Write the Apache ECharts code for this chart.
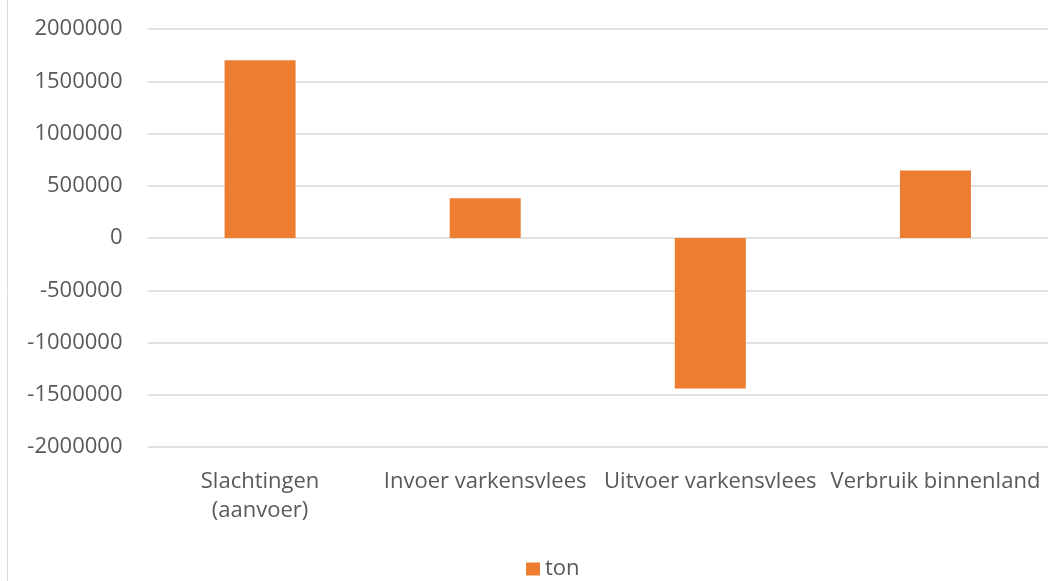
<!DOCTYPE html>
<html>
<head>
<meta charset="utf-8">
<script src="https://cdn.jsdelivr.net/npm/echarts@6/dist/echarts.min.js"></script>
<style>
html,body{margin:0;padding:0;background:#fff;}
#chart{width:1048px;height:581px;}
</style>
</head>
<body>
<div id="chart"></div>
<script>
const categories = ["Slachtingen\n(aanvoer)", "Invoer varkensvlees", "Uitvoer varkensvlees", "Verbruik binnenland"];
const seriesName = "ton";
const values = [1700000, 380000, -1440000, 645000];
const yMin = -2000000, yMax = 2000000, yInterval = 500000;

const chart = echarts.init(document.getElementById('chart'), null, {renderer: 'canvas'});
const textColor = '#595959';
const fontFamily = '"Open Sans", "Noto Sans", sans-serif';
chart.setOption({
  animation: false,
  backgroundColor: '#ffffff',
  textStyle: {fontFamily: fontFamily},
  grid: {left: 147.5, width: 904, top: 29, height: 418, containLabel: false},
  graphic: [{
    type: 'line',
    shape: {x1: 7.5, y1: 0, x2: 7.5, y2: 581},
    style: {stroke: '#d9d9d9', lineWidth: 1}
  }],
  legend: {
    data: [seriesName],
    left: 521,
    top: 553,
    itemWidth: 14,
    itemHeight: 13,
    itemGap: 8,
    icon: 'rect',
    textStyle: {color: textColor, fontSize: 22, fontFamily: fontFamily}
  },
  xAxis: {
    type: 'category',
    data: categories,
    axisLine: {show: false},
    axisTick: {show: false},
    axisLabel: {color: textColor, fontSize: 22, margin: 20, lineHeight: 29, interval: 0, fontFamily: fontFamily}
  },
  yAxis: {
    type: 'value',
    min: yMin,
    max: yMax,
    interval: yInterval,
    axisLine: {show: false},
    axisTick: {show: false},
    axisLabel: {color: textColor, fontSize: 22, margin: 25, fontFamily: fontFamily, formatter: function (v) { return String(v); }},
    splitLine: {lineStyle: {color: '#d9d9d9', width: 1.5}}
  },
  series: [{
    name: seriesName,
    type: 'bar',
    data: values,
    barWidth: 71,
    itemStyle: {color: '#ED7D31'}
  }]
});
</script>
</body>
</html>
